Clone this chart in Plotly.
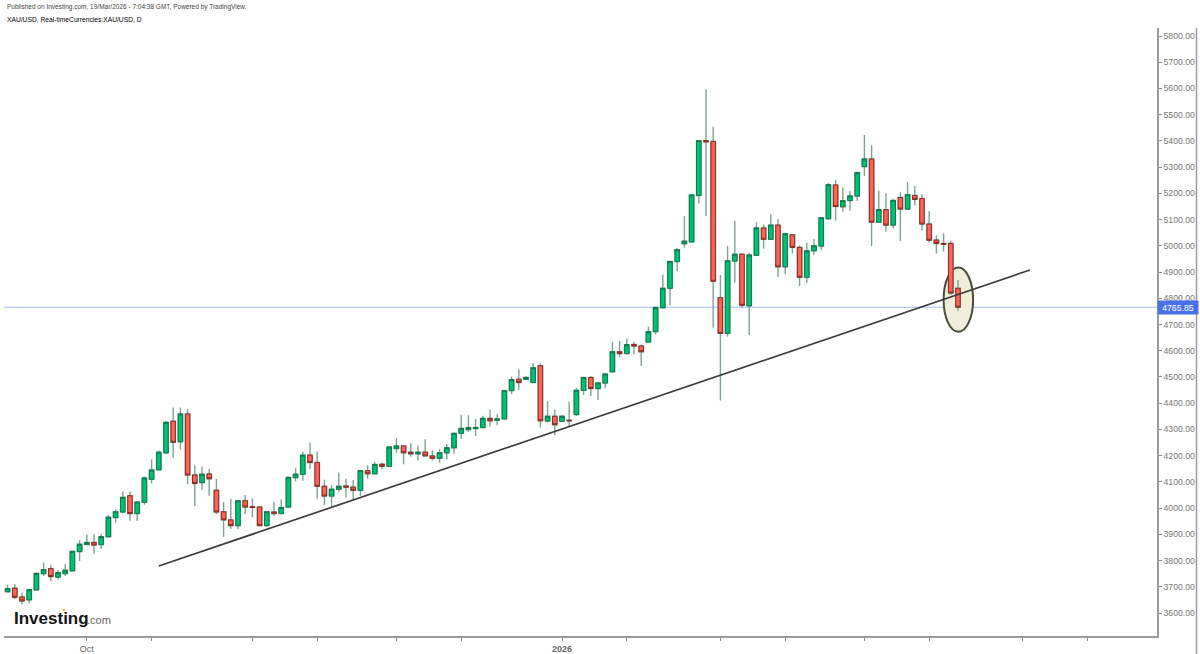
import plotly.graph_objects as go

W, H = 1200, 654
FONT = "Liberation Sans"

opens = [3681,3695,3661,3650,3688,3750,3769,3737,3750,3761,
3834,3861,3869,3861,3891,3964,3985,4047,3979,4022,
4110,4146,4211,4331,4253,4359,4126,4097,4130,4068,
3986,3955,3933,4028,4005,4004,3933,3985,3979,4004,
4116,4129,4202,4174,4083,4046,4072,4084,4080,4068,
4143,4131,4167,4159,4227,4237,4213,4207,4213,4199,
4190,4211,4230,4285,4299,4303,4307,4342,4335,4340,
4448,4491,4491,4479,4543,4332,4350,4331,4335,4357,
4449,4498,4456,4477,4520,4596,4589,4624,4618,4633,
4673,4764,4838,4940,5008,5015,5192,5401,5398,4802,
4666,4942,4968,4771,4964,5068,5025,5079,4920,5042,
4994,4880,4981,4999,5103,5232,5149,5173,5190,5302,
5331,5090,5138,5079,5184,5140,5192,5180,5083,5022,
5009,5009,4838]
closes = [3693,3660,3646,3689,3751,3765,3739,3754,3763,3835,
3862,3869,3859,3891,3965,3986,4041,3979,4023,4115,
4145,4213,4327,4251,4359,4126,4094,4129,4112,3985,
3955,3933,4028,4004,4003,3933,3986,3979,4002,4117,
4129,4202,4174,4083,4046,4072,4083,4080,4068,4143,
4131,4166,4159,4233,4237,4211,4207,4213,4199,4190,
4211,4230,4285,4304,4307,4307,4342,4333,4340,4448,
4490,4479,4498,4535,4333,4350,4318,4350,4333,4449,
4498,4456,4477,4511,4596,4589,4623,4618,4596,4673,
4765,4838,4940,4985,5018,5194,5401,5397,4865,4666,
4943,4968,4773,4965,5068,5025,5079,4920,5046,4994,
4880,4981,5000,5107,5233,5150,5172,5190,5279,5331,
5090,5138,5079,5173,5140,5195,5177,5083,5021,5009,
5006,4820,4766]
highs = [3708,3711,3678,3690,3754,3793,3782,3764,3787,3838,
3877,3899,3900,3900,3974,3995,4063,4063,4026,4120,
4186,4220,4332,4384,4384,4378,4163,4158,4149,4111,
4023,4036,4031,4050,4037,4008,3990,4023,4033,4120,
4152,4215,4249,4215,4108,4087,4136,4113,4107,4145,
4163,4176,4174,4235,4267,4239,4247,4239,4262,4220,
4224,4244,4288,4356,4354,4340,4352,4376,4359,4450,
4502,4529,4504,4552,4552,4408,4376,4356,4406,4459,
4501,4504,4482,4516,4634,4637,4647,4634,4624,4692,
4768,4891,4942,4992,5114,5196,5403,5597,5454,4889,
4999,5096,4969,4974,5090,5081,5120,5102,5050,5045,
5002,5013,5026,5110,5239,5251,5222,5209,5283,5423,
5383,5210,5200,5180,5204,5243,5228,5196,5133,5040,
5048,5020,4870]
lows = [3678,3653,3633,3637,3685,3741,3721,3728,3741,3759,
3798,3859,3826,3844,3888,3944,3984,3952,3951,4013,
4094,4143,4205,4192,4223,4091,4008,4069,4047,3977,
3890,3920,3920,3977,3965,3932,3930,3970,3977,4002,
4101,4104,4149,4037,4012,4005,4061,4041,4031,4046,
4112,4129,4148,4157,4211,4167,4196,4181,4196,4181,
4173,4186,4207,4263,4290,4275,4304,4310,4316,4337,
4435,4451,4487,4477,4307,4326,4277,4328,4310,4351,
4431,4427,4412,4458,4516,4575,4586,4586,4542,4631,
4662,4762,4774,4904,4993,5012,5161,5115,4688,4410,
4654,4859,4764,4660,4961,4989,5022,4882,4892,4971,
4847,4859,4966,4984,5101,5097,5130,5134,5171,5266,
4999,5087,5054,5067,5018,5137,5154,5058,5013,4971,
4978,4812,4751]

trend_x = [21, 142]
trend_y = [3779, 4908]
last_price = 4765.85
circle_x = [130, 134.1]
circle_y = [4672, 4917]

price_ticks = list(range(3600, 5900, 100))
date_ticks = [11, 20, 34, 43, 54, 63, 77, 86, 99, 108, 119, 128, 141, 150]
date_labels = ["Oct", "", "", "", "", "", "<b>2026</b>", "", "", "", "", "", "", ""]
publish_line = "Published on Investing.com, 19/Mar/2026 - 7:04:38 GMT, Powered by TradingView."
symbol_line = "XAU/USD, Real-timeCurrencies:XAU/USD, D"

x = list(range(len(opens)))
body_hi = [max(a, b) for a, b in zip(opens, closes)]
body_lo = [min(a, b) for a, b in zip(opens, closes)]


def px(v):
    return v / W


def py(v):
    return 1 - v / H


WICK = "#7aa592"
fig = go.Figure()
fig.add_trace(go.Candlestick(
    x=x, open=opens, high=highs, low=lows, close=closes, whiskerwidth=0,
    increasing=dict(line=dict(color=WICK, width=1.4), fillcolor=WICK),
    decreasing=dict(line=dict(color=WICK, width=1.4), fillcolor=WICK),
    showlegend=False, hoverinfo="skip"))
fig.add_trace(go.Candlestick(
    x=x, open=opens, high=body_hi, low=body_lo, close=closes, whiskerwidth=0,
    increasing=dict(line=dict(color="#0b7a4b", width=1), fillcolor="#00c176"),
    decreasing=dict(line=dict(color="#8c2a22", width=1), fillcolor="#ff6358"),
    showlegend=False))
fig.add_trace(go.Scatter(x=trend_x, y=trend_y, mode="lines",
                         line=dict(color="#3c3c3c", width=1.7), showlegend=False, hoverinfo="skip"))

shapes = [
    dict(type="circle", xref="x", yref="y", x0=circle_x[0], x1=circle_x[1], y0=circle_y[0], y1=circle_y[1],
         fillcolor="#f0eeda", line=dict(color="#4c4c3e", width=2), layer="below"),
    dict(type="line", xref="paper", yref="y", x0=px(4), x1=px(1157), y0=last_price, y1=last_price,
         line=dict(color="#a6bcff", width=1), layer="below"),
    dict(type="line", xref="paper", yref="paper", x0=px(1196.5), x1=px(1196.5), y0=py(28), y1=py(654),
         line=dict(color="#9a9a9a", width=1.5)),
    dict(type="circle", xref="paper", yref="paper", x0=px(62.6), x1=px(65), y0=py(611.4), y1=py(609),
         fillcolor="#f5a623", line=dict(width=0)),
]

annotations = [
    dict(text=publish_line, x=px(5), y=py(7.5), xref="paper", yref="paper", xanchor="left", yanchor="middle",
         showarrow=False, font=dict(family=FONT, size=6.5, color="#444444")),
    dict(text=symbol_line, x=px(5), y=py(19), xref="paper", yref="paper", xanchor="left", yanchor="middle",
         showarrow=False, font=dict(family=FONT, size=6.7, color="#000000")),
    dict(text="<b>Investing</b>", x=px(12), y=py(618), xref="paper", yref="paper", xanchor="left", yanchor="middle",
         showarrow=False, font=dict(family=FONT, size=17, color="#151515")),
    dict(text=".com", x=px(85), y=py(620), xref="paper", yref="paper", xanchor="left", yanchor="middle",
         showarrow=False, font=dict(family=FONT, size=11, color="#666666")),
    dict(text=f"{last_price:.2f}", x=px(1157), y=last_price, xref="paper", yref="y", xanchor="left", yanchor="middle",
         showarrow=False, bgcolor="#4a72e8", width=40, height=13, borderpad=0,
         font=dict(family=FONT, size=8.7, color="#ffffff")),
]

fig.update_layout(
    width=W, height=H, margin=dict(l=0, r=0, t=0, b=0), autosize=False,
    plot_bgcolor="#ffffff", paper_bgcolor="#ffffff", showlegend=False,
    boxgap=0.38, boxgroupgap=0,
    shapes=shapes, annotations=annotations,
    xaxis=dict(domain=[px(4), px(1157)], range=[-0.5, 159.64], rangeslider=dict(visible=False),
               tickmode="array", tickvals=date_ticks, ticktext=date_labels, ticks="outside", ticklen=3,
               tickcolor="#888888", tickwidth=1, showline=True, linecolor="#9a9a9a", linewidth=1.5,
               showgrid=False, zeroline=False, tickfont=dict(family=FONT, size=9, color="#666666")),
    yaxis=dict(domain=[1 - 636 / H, 1 - 28 / H], range=[3512.3, 5830.5], side="right",
               tickmode="array", tickvals=price_ticks, tickformat=".2f", ticks="outside", ticklen=3,
               tickcolor="#888888", tickwidth=1, showline=True, linecolor="#9a9a9a", linewidth=1.5,
               showgrid=False, zeroline=False, tickfont=dict(family=FONT, size=8.7, color="#777777")),
)

fig.write_html("out.html", config=dict(displayModeBar=False),
               post_script="document.body.style.margin='0';document.body.style.overflow='hidden';")
